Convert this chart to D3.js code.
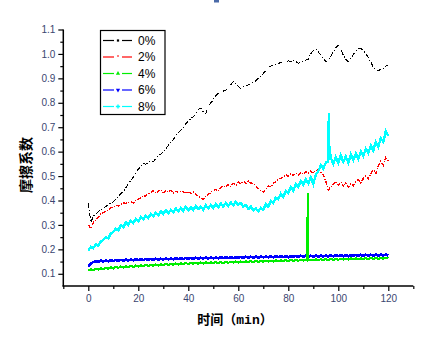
<!DOCTYPE html>
<html><head><meta charset="utf-8">
<script src="https://cdn.jsdelivr.net/npm/d3@7/dist/d3.min.js"></script>
<style>
html,body{margin:0;padding:0;background:#fff;}
svg{display:block;}
</style></head>
<body>
<svg id="chart" width="433" height="340"></svg>
<script>
// ---------- DATA ----------
const seriesNames = ["0%", "2%", "4%", "6%", "8%"];
const seriesColors = ["#000000", "#ff0000", "#00ee00", "#0000ff", "#00ffff"];
const xTickLabels = [0, 20, 40, 60, 80, 100, 120];
const yTickLabels = [0.1, 0.2, 0.3, 0.4, 0.5, 0.6, 0.7, 0.8, 0.9, 1.0, 1.1];
const time = d3.range(0, 121); // minutes, one sample per minute

const friction0 = [0.39,0.31,0.335,0.345,0.355,0.362,0.37,0.375,0.383,0.39,
0.395,0.405,0.415,0.428,0.436,0.452,0.468,0.482,0.495,0.515,
0.528,0.54,0.552,0.548,0.556,0.56,0.559,0.572,0.585,0.59,
0.6,0.61,0.626,0.638,0.65,0.664,0.676,0.688,0.7,0.715,
0.724,0.735,0.743,0.755,0.772,0.778,0.762,0.757,0.785,0.8,
0.812,0.83,0.838,0.84,0.848,0.852,0.86,0.874,0.886,0.878,
0.866,0.859,0.865,0.87,0.873,0.878,0.884,0.89,0.9,0.91,
0.92,0.932,0.945,0.95,0.955,0.958,0.961,0.965,0.968,0.966,
0.972,0.968,0.975,0.97,0.961,0.966,0.97,0.975,0.978,1.0,
1.015,1.019,1.008,0.996,0.982,0.968,0.975,0.99,1.009,1.025,
1.036,1.02,0.995,0.978,0.968,0.982,0.998,1.008,1.02,1.023,
1.012,1.002,0.985,0.968,0.945,0.934,0.93,0.938,0.942,0.95,0.955];

const friction2 = [0.30,0.285,0.31,0.32,0.33,0.345,0.35,0.355,0.362,0.37,
0.375,0.38,0.378,0.385,0.39,0.388,0.392,0.395,0.39,0.40,
0.405,0.412,0.42,0.418,0.428,0.432,0.44,0.43,0.437,0.445,
0.432,0.44,0.435,0.442,0.43,0.438,0.432,0.44,0.435,0.43,
0.437,0.428,0.435,0.425,0.418,0.41,0.405,0.418,0.425,0.432,
0.44,0.445,0.438,0.452,0.46,0.455,0.465,0.458,0.47,0.462,
0.475,0.468,0.478,0.47,0.48,0.472,0.468,0.462,0.448,0.44,
0.435,0.448,0.46,0.455,0.47,0.478,0.485,0.49,0.498,0.505,
0.498,0.51,0.502,0.512,0.505,0.515,0.508,0.518,0.51,0.52,
0.512,0.522,0.525,0.515,0.505,0.48,0.443,0.455,0.468,0.478,
0.462,0.475,0.46,0.472,0.455,0.468,0.46,0.478,0.485,0.472,
0.49,0.5,0.488,0.51,0.525,0.51,0.54,0.56,0.545,0.575,0.56];

const friction4 = [0.112,0.118,0.115,0.121,0.117,0.123,0.119,0.125,0.12,0.127,
0.122,0.128,0.124,0.13,0.126,0.131,0.127,0.133,0.128,0.134,
0.13,0.135,0.131,0.136,0.132,0.137,0.133,0.138,0.134,0.139,
0.135,0.14,0.136,0.141,0.137,0.142,0.138,0.143,0.139,0.144,
0.14,0.145,0.141,0.145,0.141,0.146,0.142,0.147,0.143,0.147,
0.143,0.148,0.144,0.148,0.144,0.149,0.145,0.149,0.146,0.15,
0.146,0.15,0.147,0.151,0.147,0.152,0.148,0.152,0.149,0.153,
0.149,0.154,0.15,0.154,0.15,0.155,0.151,0.155,0.152,0.156,
0.152,0.157,0.153,0.157,0.153,0.158,0.154,0.158,0.155,0.158,
0.155,0.159,0.155,0.16,0.156,0.16,0.156,0.161,0.157,0.161,
0.157,0.162,0.158,0.162,0.158,0.163,0.159,0.163,0.159,0.164,
0.16,0.164,0.16,0.165,0.161,0.165,0.161,0.166,0.162,0.166,0.163];
const friction4SpikeTime = [87.6, 87.7, 87.8, 87.9];
const friction4SpikeValue = [0.156, 0.29, 0.43, 0.16];

const friction6 = [0.128,0.142,0.148,0.152,0.149,0.154,0.15,0.155,0.151,0.156,
0.152,0.157,0.153,0.157,0.154,0.158,0.154,0.159,0.155,0.16,
0.156,0.16,0.156,0.161,0.157,0.161,0.157,0.162,0.158,0.162,
0.158,0.163,0.159,0.163,0.159,0.164,0.16,0.164,0.16,0.165,
0.161,0.165,0.161,0.166,0.162,0.166,0.162,0.167,0.162,0.167,
0.163,0.167,0.163,0.168,0.164,0.168,0.164,0.169,0.164,0.169,
0.165,0.169,0.165,0.17,0.166,0.17,0.166,0.171,0.166,0.171,
0.167,0.171,0.167,0.172,0.167,0.172,0.168,0.172,0.168,0.173,
0.168,0.173,0.169,0.173,0.169,0.174,0.169,0.174,0.17,0.174,
0.17,0.175,0.17,0.175,0.171,0.175,0.171,0.176,0.171,0.176,
0.172,0.176,0.172,0.177,0.172,0.177,0.173,0.177,0.173,0.178,
0.173,0.178,0.174,0.178,0.174,0.179,0.174,0.179,0.175,0.179,0.175];

const friction8 = [0.195,0.21,0.205,0.22,0.215,0.232,0.238,0.25,0.245,0.265,
0.272,0.285,0.278,0.298,0.29,0.31,0.3,0.318,0.308,0.325,
0.315,0.332,0.322,0.338,0.328,0.345,0.335,0.35,0.34,0.355,
0.345,0.36,0.348,0.362,0.352,0.368,0.355,0.37,0.358,0.375,
0.36,0.372,0.362,0.378,0.365,0.375,0.362,0.38,0.368,0.382,
0.37,0.385,0.372,0.388,0.375,0.39,0.378,0.392,0.38,0.395,
0.382,0.39,0.375,0.382,0.365,0.375,0.36,0.368,0.355,0.37,
0.362,0.385,0.375,0.398,0.39,0.412,0.405,0.428,0.415,0.44,
0.43,0.455,0.44,0.468,0.455,0.48,0.465,0.488,0.47,0.495,
0.468,0.505,0.52,0.545,0.53,0.555,0.56,0.575,0.55,0.578,
0.555,0.585,0.558,0.58,0.555,0.588,0.565,0.592,0.57,0.6,
0.582,0.612,0.595,0.625,0.605,0.64,0.62,0.655,0.64,0.685,0.665];
const friction8SpikeTime = [96.2, 96.3];
const friction8SpikeValue = [0.76, 0.63];

// ---------- LAYOUT ----------
const svg = d3.select("#chart");
const x = d3.scaleLinear().domain([-10, 130]).range([63.3, 413.3]);
const y = d3.scaleLinear().domain([0.05, 1.1]).range([286, 29.5]);
const tickColor = "#3a4670";

function build(values, extraT, extraV) {
  const pts = time.map((t, i) => [t, values[i]]);
  if (extraT) extraT.forEach((t, i) => pts.push([t, extraV[i]]));
  pts.sort((a, b) => a[0] - b[0]);
  return pts;
}
const allSeries = [
  {pts: build(friction0), dash: "5,2,1,2", w: 1},
  {pts: build(friction2), dash: "4,1.5,1,1.5", w: 1.4},
  {pts: build(friction4, friction4SpikeTime, friction4SpikeValue), dash: null, w: 2.2},
  {pts: build(friction6), dash: null, w: 2.6},
  {pts: build(friction8, friction8SpikeTime, friction8SpikeValue), dash: null, w: 2.4}
];

const line = d3.line().x(d => x(d[0])).y(d => y(d[1]));
[0, 1, 4, 3, 2].forEach(i => {
  const s = allSeries[i];
  svg.append("path").datum(s.pts)
    .attr("d", line)
    .attr("fill", "none")
    .attr("stroke", seriesColors[i])
    .attr("stroke-width", s.w)
    .attr("stroke-dasharray", s.dash)
    .attr("shape-rendering", "crispEdges");
});

// ---------- AXES ----------
const yMinor = d3.range(0.1, 1.1001, 0.05).filter(v => Math.abs(Math.round(v * 10) - v * 10) > 0.01);
const xMinor = [-10, 10, 30, 50, 70, 90, 110, 130];

const gy = svg.append("g").attr("transform", "translate(63.3,0)");
gy.call(d3.axisLeft(y).tickValues(yTickLabels).tickSize(5).tickPadding(3).tickFormat(d3.format(".1f")));
gy.append("g").call(d3.axisLeft(y).tickValues(yMinor).tickSize(3).tickFormat(""));
gy.selectAll(".domain").remove();
gy.append("line").attr("x1", 0).attr("x2", 0).attr("y1", y(1.1)).attr("y2", 286.5)
  .attr("stroke", "#000").attr("stroke-width", 1.5);

const gx = svg.append("g").attr("transform", "translate(0,286)");
gx.call(d3.axisBottom(x).tickValues(xTickLabels).tickSize(5).tickPadding(4).tickFormat(d3.format("d")));
gx.append("g").call(d3.axisBottom(x).tickValues(xMinor).tickSize(3).tickFormat(""));
gx.selectAll(".domain").remove();
gx.append("line").attr("x1", 62.5).attr("x2", 413.3).attr("y1", 0).attr("y2", 0)
  .attr("stroke", "#000").attr("stroke-width", 1.5);

svg.selectAll(".tick line").attr("stroke", "#000").attr("stroke-width", 1.2);
svg.selectAll(".tick text")
  .attr("fill", tickColor)
  .style("font-family", "'Liberation Sans', Arial, sans-serif")
  .style("font-size", "10px");

// axis titles
svg.append("text")
  .attr("transform", "translate(31,165) rotate(-90)")
  .attr("text-anchor", "middle")
  .style("font-family", "'Noto Sans CJK SC', sans-serif")
  .style("font-weight", "bold")
  .style("font-size", "14px")
  .attr("fill", "#000")
  .text("摩擦系数");

const xt = svg.append("text")
  .attr("x", 235).attr("y", 324)
  .attr("text-anchor", "middle")
  .style("font-weight", "bold")
  .style("font-size", "13px")
  .attr("fill", "#000");
xt.append("tspan").style("font-family", "'Noto Sans CJK SC', sans-serif").text("时间（");
xt.append("tspan").style("font-family", "'Liberation Mono', monospace").text("min");
xt.append("tspan").style("font-family", "'Noto Sans CJK SC', sans-serif").text("）");

// clipped title remnant at top
svg.append("rect").attr("x", 214).attr("y", 0).attr("width", 5).attr("height", 2.5).attr("fill", "#4a6aa8");

// ---------- LEGEND ----------
const lg = svg.append("g");
lg.append("rect").attr("x", 100.5).attr("y", 30.5).attr("width", 64.5).attr("height", 84)
  .attr("fill", "#fff").attr("stroke", "#000").attr("stroke-width", 1.2);
const legendY = d3.scalePoint().domain(seriesNames).range([40.5, 106.5]);
seriesNames.forEach((name, i) => {
  const cy = legendY(name);
  const c = seriesColors[i];
  lg.append("line").attr("x1", 103).attr("x2", 114).attr("y1", cy).attr("y2", cy).attr("stroke", c).attr("stroke-width", 1.2);
  lg.append("line").attr("x1", 122).attr("x2", 132).attr("y1", cy).attr("y2", cy).attr("stroke", c).attr("stroke-width", 1.2);
  let marker;
  if (i === 0) marker = d3.symbol().type(d3.symbolSquare).size(5);
  else if (i === 1) marker = null;
  else if (i === 2) marker = d3.symbol().type(d3.symbolTriangle).size(8);
  else if (i === 3) marker = d3.symbol().type(d3.symbolTriangle).size(8);
  else marker = d3.symbol().type(d3.symbolCross).size(10);
  if (marker) {
    lg.append("path").attr("d", marker())
      .attr("transform", `translate(118,${cy})` + (i === 3 ? " rotate(180)" : ""))
      .attr("fill", c);
  } else {
    lg.append("line").attr("x1", 118).attr("x2", 118).attr("y1", cy - 2).attr("y2", cy).attr("stroke", c).attr("stroke-width", 1);
  }
  lg.append("text").attr("x", 138).attr("y", cy + 4)
    .style("font-family", "'Liberation Sans', Arial, sans-serif")
    .style("font-size", "12px")
    .attr("fill", "#000")
    .text(name);
});
</script>
</body></html>
